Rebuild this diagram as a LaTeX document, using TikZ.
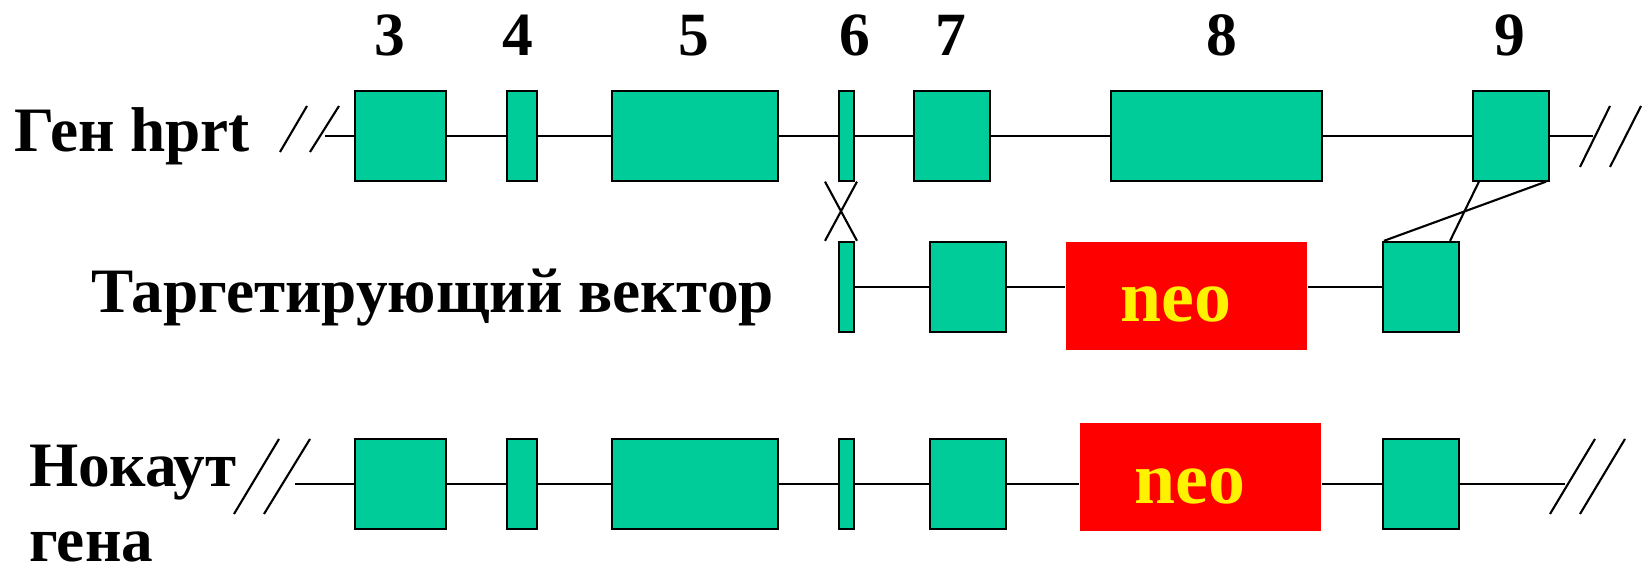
\documentclass[tikz,border=0pt]{standalone}
\usepackage{fontspec}
\setmainfont{Liberation Serif}
\definecolor{exongreen}{RGB}{0,204,153}

\begin{document}
\begin{tikzpicture}[line width=0.6pt]
  \tikzstyle{exon}=[draw,fill=exongreen,inner sep=0pt,minimum height=0.9cm]
  \tikzstyle{neobox}=[fill=red,text=yellow,inner sep=0pt,minimum width=2.41cm,minimum height=1.08cm,text height=0.52cm,text depth=0cm,font=\bfseries\fontsize{21}{25}\selectfont]
  \tikzstyle{lbl}=[inner sep=0pt,anchor=base west,font=\bfseries\fontsize{18}{21.3}\selectfont]
  \tikzstyle{num}=[inner sep=0pt,anchor=base,font=\bfseries\fontsize{17.5}{21}\selectfont]
  \useasboundingbox[fill=white] (0,0) rectangle (16.48,5.72);
  % exon numbers
  \node[num] (n3) at (3.90,5.16) {3};
  \node[num] (n4) at (5.175,5.16) {4};
  \node[num] (n5) at (6.94,5.16) {5};
  \node[num] (n6) at (8.55,5.16) {6};
  \node[num] (n7) at (9.51,5.16) {7};
  \node[num] (n8) at (12.22,5.16) {8};
  \node[num] (n9) at (15.10,5.16) {9};
  % labels
  \node[lbl] (gene) at (0.136,4.20) {Ген hprt};
  \node[lbl] (vector) at (0.90,2.59) {Таргетирующий вектор};
  \node[lbl,anchor=north west,align=left] (knockout) at (0.28,1.28) {Нокаут\\гена};
  % hprt gene
  \node[exon,minimum width=0.91cm] (a3) at (4.005,4.364) {};
  \node[exon,minimum width=0.30cm] (a4) at (5.22,4.364) {};
  \node[exon,minimum width=1.66cm] (a5) at (6.95,4.364) {};
  \node[exon,minimum width=0.15cm] (a6) at (8.465,4.364) {};
  \node[exon,minimum width=0.76cm] (a7) at (9.52,4.364) {};
  \node[exon,minimum width=2.11cm] (a8) at (12.165,4.364) {};
  \node[exon,minimum width=0.76cm] (a9) at (15.11,4.364) {};
  \coordinate (l1) at (3.25,4.364);
  \coordinate (r1) at (15.93,4.364);
  \draw (l1) -- (a3) -- (a4) -- (a5) -- (a6) -- (a7) -- (a8) -- (a9) -- (r1);
  \draw (2.80,4.20) -- (3.07,4.66) (3.10,4.20) -- (3.39,4.66);
  \draw (15.80,4.05) -- (16.10,4.66) (16.10,4.05) -- (16.41,4.66);
  % targeting vector
  \node[exon,minimum width=0.15cm] (b6) at (8.465,2.851) {};
  \node[exon,minimum width=0.76cm] (b7) at (9.68,2.851) {};
  \node[neobox] (neo1) at (11.865,2.76) {neo\hspace*{0.21cm}};
  \node[exon,minimum width=0.76cm] (b9) at (14.21,2.851) {};
  \draw (b6) -- (b7) -- (b7 -| neo1.west);
  \draw (neo1.east |- b9) -- (b9);
  % recombination
  \draw ([xshift=-0.215cm]a6.south) -- ([xshift=0.105cm]b6.north);
  \draw ([xshift=0.105cm]a6.south) -- ([xshift=-0.215cm]b6.north);
  \draw ([xshift=0.07cm]a9.south west) -- ([xshift=-0.10cm]b9.north east);
  \draw ([xshift=-0.04cm]a9.south east) -- ([xshift=0.02cm]b9.north west);
  % knockout
  \node[exon,minimum width=0.91cm] (c3) at (4.005,0.883) {};
  \node[exon,minimum width=0.30cm] (c4) at (5.22,0.883) {};
  \node[exon,minimum width=1.66cm] (c5) at (6.95,0.883) {};
  \node[exon,minimum width=0.15cm] (c6) at (8.465,0.883) {};
  \node[exon,minimum width=0.76cm] (c7) at (9.68,0.883) {};
  \node[neobox] (neo2) at (12.005,0.947) {neo\hspace*{0.21cm}};
  \node[exon,minimum width=0.76cm] (c9) at (14.21,0.883) {};
  \coordinate (l3) at (2.95,0.883);
  \coordinate (r3) at (15.65,0.883);
  \draw (l3) -- (c3) -- (c4) -- (c5) -- (c6) -- (c7) -- (c7 -| neo2.west);
  \draw (neo2.east |- c9) -- (c9) -- (r3);
  \draw (2.34,0.58) -- (2.79,1.33) (2.64,0.58) -- (3.10,1.33);
  \draw (15.50,0.58) -- (15.95,1.33) (15.80,0.58) -- (16.25,1.33);
\end{tikzpicture}
\end{document}
